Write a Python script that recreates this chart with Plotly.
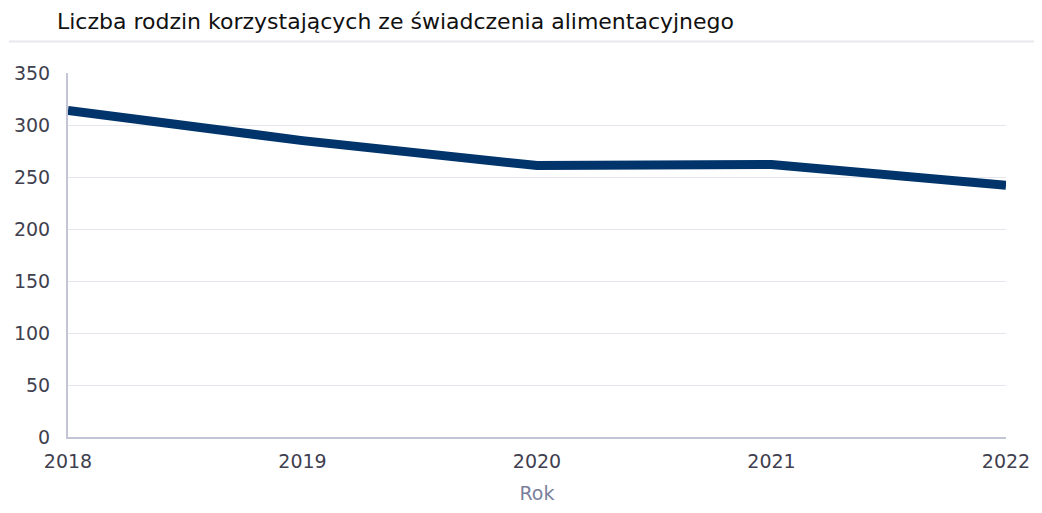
import plotly.graph_objects as go

# Liczba rodzin korzystających ze świadczenia alimentacyjnego, 2018–2022
years = [2018, 2019, 2020, 2021, 2022]
families = [314, 285, 261, 262, 242]
y_ticks = [0, 50, 100, 150, 200, 250, 300, 350]

fig = go.Figure()
fig.add_trace(go.Scatter(
    x=years,
    y=families,
    mode="lines",
    line=dict(color="#00346a", width=9),
    hoverinfo="x+y",
))

font_family = "DejaVu Sans, Verdana, sans-serif"

fig.update_layout(
    width=1042,
    height=513,
    margin=dict(l=68, r=26, t=73, b=70),
    paper_bgcolor="white",
    plot_bgcolor="white",
    showlegend=False,
    font=dict(family=font_family, color="#3f3f4f", size=18),
    xaxis=dict(
        range=[2018, 2022],
        tickmode="array",
        tickvals=years,
        ticktext=[str(y) for y in years],
        showgrid=False,
        zeroline=False,
        showline=True,
        linecolor="#c3c4d6",
        linewidth=2,
        ticks="",
        tickfont=dict(size=19, color="#3f3f4f"),
        ticklabelstandoff=6,
        title=dict(text="Rok", font=dict(size=19, color="#7a7f9c"), standoff=16),
    ),
    yaxis=dict(
        range=[0, 350],
        tickmode="array",
        tickvals=y_ticks,
        showgrid=True,
        gridcolor="#e6e6ee",
        gridwidth=1,
        zeroline=False,
        showline=True,
        linecolor="#c3c4d6",
        linewidth=2,
        ticks="",
        tickfont=dict(size=19, color="#3f3f4f"),
        ticklabelstandoff=12,
    ),
    annotations=[
        dict(
            text="Liczba rodzin korzystających ze świadczenia alimentacyjnego",
            xref="paper", yref="paper",
            x=-0.014, y=1.0, yshift=52,
            xanchor="left", yanchor="middle",
            showarrow=False,
            font=dict(size=22, color="#111111", family=font_family),
        )
    ],
    shapes=[
        dict(
            type="line",
            xref="paper", yref="paper",
            x0=-0.063, x1=1.03, y0=1 + 32 / 370, y1=1 + 32 / 370,
            line=dict(color="#e8e8ee", width=2),
            layer="above",
        )
    ],
)

fig.write_html("out.html")
